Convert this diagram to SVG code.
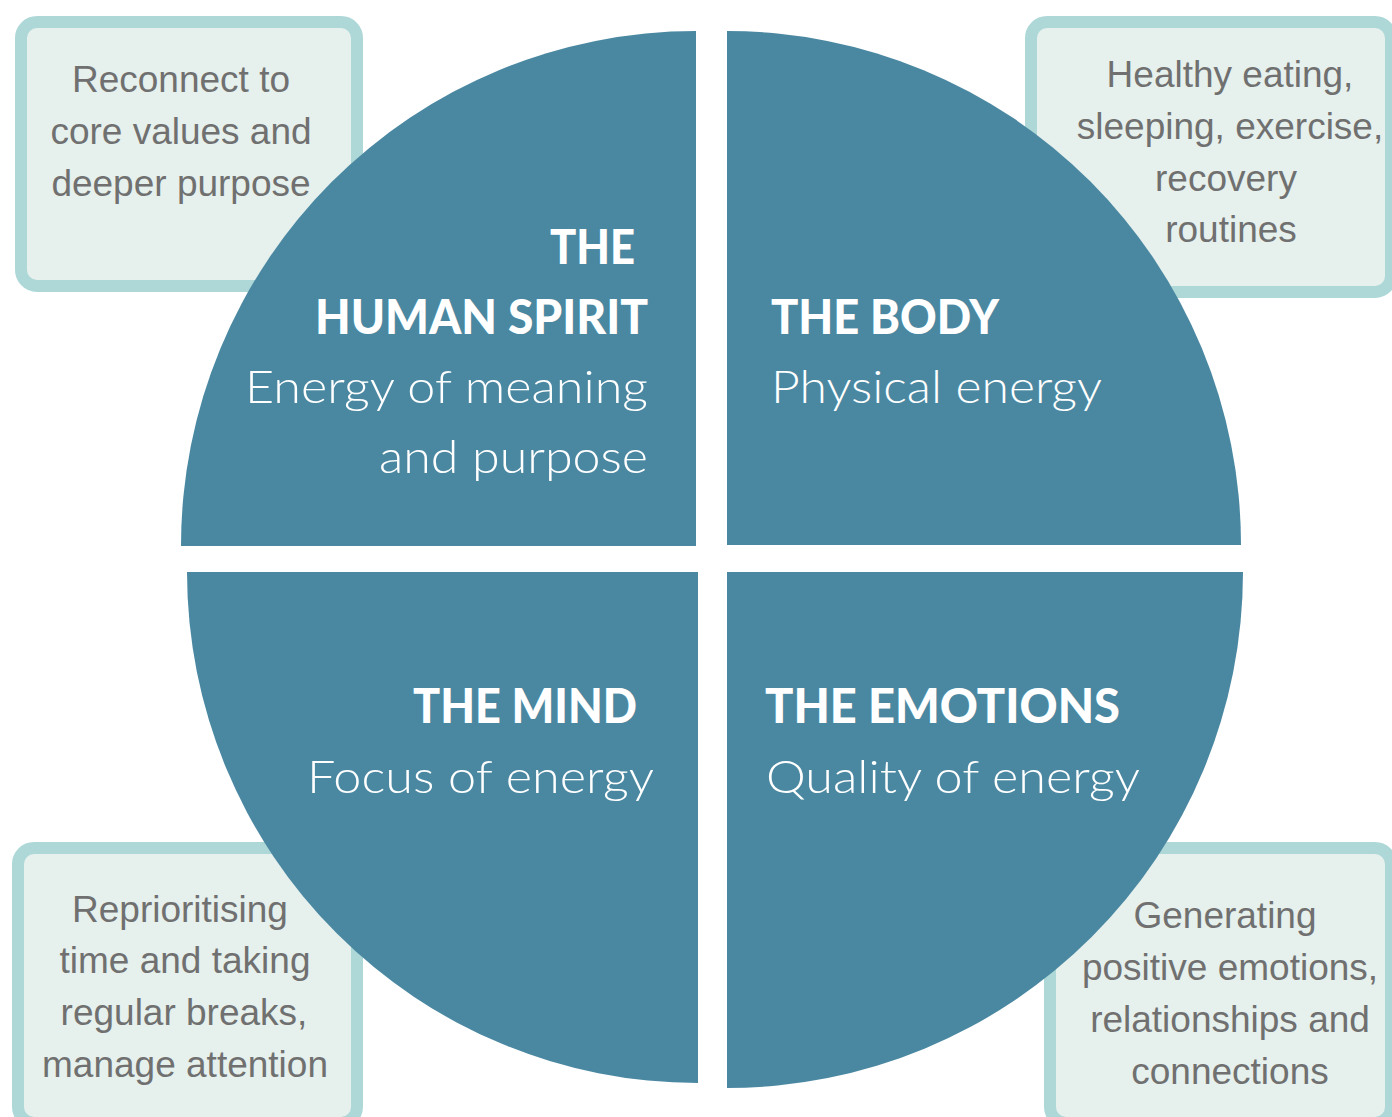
<svg xmlns="http://www.w3.org/2000/svg" width="1392" height="1117" viewBox="0 0 1392 1117">
<style>
.box{fill:#e6f0ed;stroke:#aed8d8;stroke-width:12}
.wedge{fill:#4a88a2}
.bt{font-family:"Liberation Sans",Arial,sans-serif;font-size:37px;fill:#707070;text-anchor:middle}
.tt{font-family:Lato,"Noto Sans",sans-serif;font-weight:900;font-size:47px;fill:#ffffff}
.st{font-family:Lato,"Noto Sans",sans-serif;font-weight:300;font-size:46px;fill:#ffffff}
</style>
<rect width="1392" height="1117" fill="#ffffff"/>
<g id="box-spirit">
<rect class="box" x="21" y="22" width="336" height="264" rx="16"/>
<text class="bt" x="181" y="92">Reconnect to</text>
<text class="bt" x="181" y="144">core values and</text>
<text class="bt" x="181" y="196">deeper purpose</text>
</g>
<g id="box-body">
<rect class="box" x="1031" y="22" width="360" height="270" rx="16"/>
<text class="bt" x="1230" y="87">Healthy eating,</text>
<text class="bt" x="1230" y="139">sleeping, exercise,</text>
<text class="bt" x="1226" y="191">recovery</text>
<text class="bt" x="1231" y="242">routines</text>
</g>
<g id="box-mind">
<rect class="box" x="18" y="848" width="339" height="275" rx="16"/>
<text class="bt" x="180" y="922">Reprioritising</text>
<text class="bt" x="185" y="973">time and taking</text>
<text class="bt" x="184" y="1025">regular breaks,</text>
<text class="bt" x="185" y="1077">manage attention</text>
</g>
<g id="box-emotions">
<rect class="box" x="1050" y="848" width="341" height="275" rx="16"/>
<text class="bt" x="1225" y="928">Generating</text>
<text class="bt" x="1230" y="980">positive emotions,</text>
<text class="bt" x="1230" y="1032">relationships and</text>
<text class="bt" x="1230" y="1084">connections</text>
</g>
<g id="wedge-spirit">
<path class="wedge" d="M696,546 L181,546 A515,515 0 0 1 696,31 Z"/>
<text class="tt" x="550" y="264" textLength="85" lengthAdjust="spacingAndGlyphs">THE</text>
<text class="tt" x="315" y="334" textLength="333" lengthAdjust="spacingAndGlyphs">HUMAN SPIRIT</text>
<text class="st" x="245" y="403" textLength="403" lengthAdjust="spacingAndGlyphs">Energy of meaning</text>
<text class="st" x="379" y="473" textLength="269" lengthAdjust="spacingAndGlyphs">and purpose</text>
</g>
<g id="wedge-body">
<path class="wedge" d="M727,545 L727,31 A514,514 0 0 1 1241,545 Z"/>
<text class="tt" x="771" y="334" textLength="228" lengthAdjust="spacingAndGlyphs">THE BODY</text>
<text class="st" x="771" y="403" textLength="331" lengthAdjust="spacingAndGlyphs">Physical energy</text>
</g>
<g id="wedge-mind">
<path class="wedge" d="M698,572 L698,1083 A511,511 0 0 1 187,572 Z"/>
<text class="tt" x="413" y="723" textLength="224" lengthAdjust="spacingAndGlyphs">THE MIND</text>
<text class="st" x="307" y="793" textLength="347" lengthAdjust="spacingAndGlyphs">Focus of energy</text>
</g>
<g id="wedge-emotions">
<path class="wedge" d="M727,572 L1243,572 A516,516 0 0 1 727,1088 Z"/>
<text class="tt" x="765" y="723" textLength="355" lengthAdjust="spacingAndGlyphs">THE EMOTIONS</text>
<text class="st" x="766" y="793" textLength="374" lengthAdjust="spacingAndGlyphs">Quality of energy</text>
</g>
<g id="connectors"/>
</svg>
